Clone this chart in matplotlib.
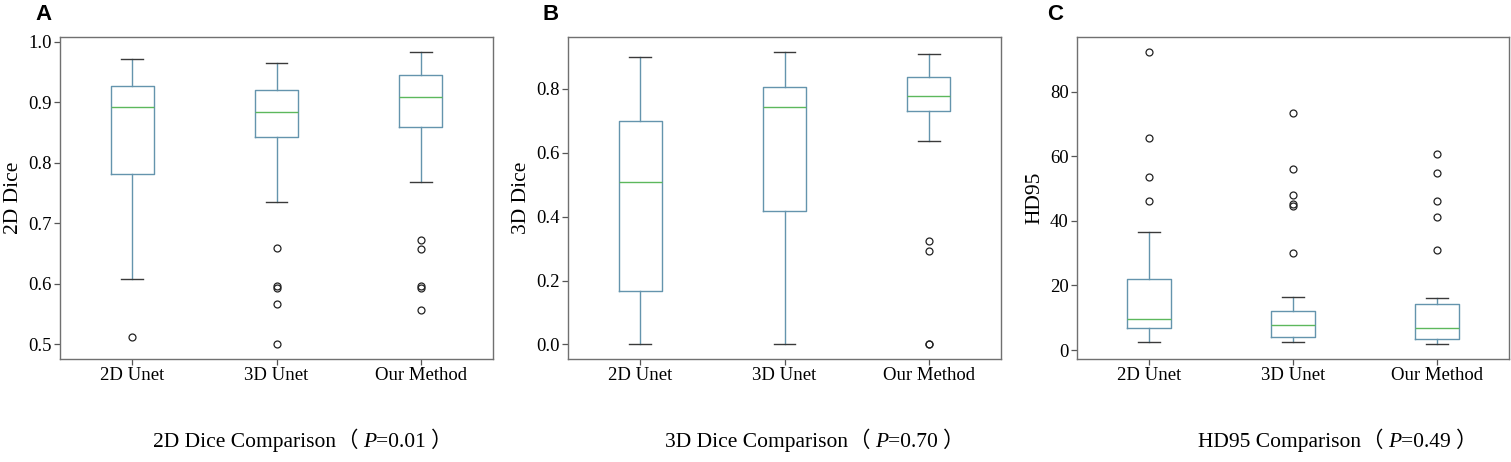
"""
Box plots comparing 2D Dice, 3D Dice and HD95 for three segmentation methods.
"""

import matplotlib

matplotlib.use("Agg")
import matplotlib.pyplot as plt
from matplotlib.ticker import FormatStrFormatter

plt.rcParams["font.family"] = ["Liberation Serif", "Noto Sans CJK SC", "DejaVu Sans"]

groups = ["2D Unet", "3D Unet", "Our Method"]

# 2D Dice summary statistics
dice2d_whislo = [0.608, 0.735, 0.769]
dice2d_q1 = [0.781, 0.843, 0.859]
dice2d_med = [0.893, 0.884, 0.909]
dice2d_q3 = [0.927, 0.921, 0.946]
dice2d_whishi = [0.971, 0.966, 0.984]
dice2d_fliers = [
    [0.512],
    [0.660, 0.596, 0.594, 0.566, 0.500],
    [0.673, 0.658, 0.596, 0.594, 0.556],
]

# 3D Dice
dice3d_whislo = [0.0, 0.0, 0.638]
dice3d_q1 = [0.168, 0.418, 0.732]
dice3d_med = [0.510, 0.745, 0.779]
dice3d_q3 = [0.701, 0.807, 0.836]
dice3d_whishi = [0.900, 0.917, 0.911]
dice3d_fliers = [[], [], [0.324, 0.294, 0.002, 0.0]]

# HD95
hd95_whislo = [2.4, 2.6, 1.75]
hd95_q1 = [6.8, 3.9, 3.5]
hd95_med = [9.7, 7.7, 6.7]
hd95_q3 = [22.0, 12.0, 14.1]
hd95_whishi = [36.6, 16.4, 16.2]
hd95_fliers = [
    [92.4, 65.7, 53.5, 46.3],
    [73.5, 56.2, 48.1, 45.2, 44.6, 30.1],
    [60.6, 54.8, 46.3, 41.3, 31.1],
]

# caption text: metric name and p value
caption_names = ["2D Dice Comparison", "3D Dice Comparison", "HD95 Comparison"]
caption_pvals = ["0.01", "0.70", "0.49"]

BOX_COLOR = "#6494ad"
MEDIAN_COLOR = "#5cb85c"
CAP_COLOR = "#3a3a3a"


def make_stats(whislo, q1, med, q3, whishi, fliers):
    return [
        dict(label=g, whislo=a, q1=b, med=c, q3=d, whishi=e, fliers=f)
        for g, a, b, c, d, e, f in zip(groups, whislo, q1, med, q3, whishi, fliers)
    ]


def draw_panel(ax, stats, ylabel, yticks, fmt):
    ax.bxp(
        stats,
        widths=0.3,
        showfliers=True,
        boxprops=dict(color=BOX_COLOR, linewidth=1.0),
        whiskerprops=dict(color=BOX_COLOR, linewidth=1.0),
        capprops=dict(color=CAP_COLOR, linewidth=1.0),
        medianprops=dict(color=MEDIAN_COLOR, linewidth=1.0),
        flierprops=dict(
            marker="o",
            markersize=5,
            markerfacecolor="none",
            markeredgecolor="#222222",
            markeredgewidth=0.9,
        ),
    )
    ax.set_xlim(0.5, 3.5)
    ax.set_yticks(yticks)
    ax.yaxis.set_major_formatter(FormatStrFormatter(fmt))
    ax.set_ylabel(ylabel, fontsize=15.5, labelpad=4)
    ax.tick_params(labelsize=13.5, length=4, width=0.9, pad=2, color="#555555")
    for sp in ax.spines.values():
        sp.set_color("#707070")
        sp.set_linewidth(1.0)


fig = plt.figure(figsize=(15.11, 4.62), dpi=100)
W, H = 1511, 462


def px_axes(left, right, top, bottom):
    return fig.add_axes([left / W, 1 - bottom / H, (right - left) / W, (bottom - top) / H])


ax_a = px_axes(60, 493, 37, 359)
ax_b = px_axes(568, 1001, 37, 359)
ax_c = px_axes(1077, 1509, 37, 359)

draw_panel(
    ax_a,
    make_stats(dice2d_whislo, dice2d_q1, dice2d_med, dice2d_q3, dice2d_whishi, dice2d_fliers),
    "2D Dice",
    [0.5, 0.6, 0.7, 0.8, 0.9, 1.0],
    "%.1f",
)
draw_panel(
    ax_b,
    make_stats(dice3d_whislo, dice3d_q1, dice3d_med, dice3d_q3, dice3d_whishi, dice3d_fliers),
    "3D Dice",
    [0.0, 0.2, 0.4, 0.6, 0.8],
    "%.1f",
)
draw_panel(
    ax_c,
    make_stats(hd95_whislo, hd95_q1, hd95_med, hd95_q3, hd95_whishi, hd95_fliers),
    "HD95",
    [0, 20, 40, 60, 80],
    "%d",
)

# Panel letters
for x, letter in [(35, "A"), (542, "B"), (1047, "C")]:
    fig.text(x / W, 1 - 15 / H, letter, fontsize=16, fontweight="bold",
             family="Liberation Sans", va="center", ha="left")

# Captions below each panel, built from pieces so the full-width brackets
# and the italic P each get their own font; each piece starts where the
# previous one ends
CAP_SIZE = 15.5
y_base = 1 - 447 / H
for x, name, pval in zip([153, 665, 1198], caption_names, caption_pvals):
    pieces = [
        ("（", dict(family="Noto Sans CJK SC")),
        (" ", dict(family="Liberation Serif")),
        ("P", dict(family="Liberation Serif", style="italic")),
        ("=" + pval + " ", dict(family="Liberation Serif")),
        ("）", dict(family="Noto Sans CJK SC")),
    ]
    prev = fig.text(x / W, y_base, name, fontsize=CAP_SIZE, ha="left",
                    va="baseline", family="Liberation Serif")
    for txt, kw in pieces:
        prev = ax_a.annotate(
            txt, xy=(1, y_base), xycoords=(prev, "figure fraction"),
            fontsize=CAP_SIZE, ha="left", va="baseline",
            annotation_clip=False, **kw,
        )

fig.savefig("out.png", dpi=100)
plt.close(fig)
